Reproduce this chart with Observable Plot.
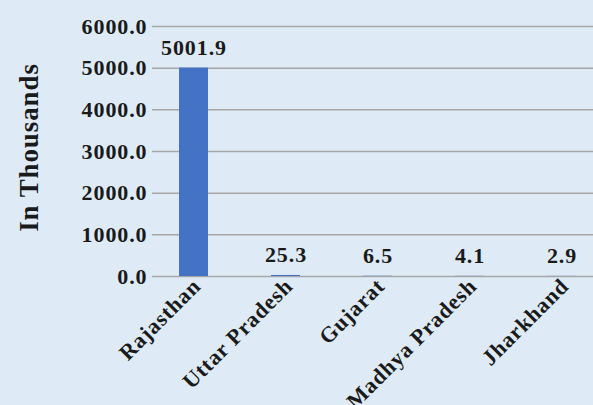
<!DOCTYPE html>
<html><head><meta charset="utf-8">
<script src="https://cdn.jsdelivr.net/npm/d3@7"></script>
<script src="https://cdn.jsdelivr.net/npm/@observablehq/plot@0.6"></script>
<style>
html,body{margin:0;padding:0;background:#deebf7;}
#c{width:593px;height:405px;overflow:hidden;}
</style></head><body><div id="c"></div>
<script>
const states = ["Rajasthan","Uttar Pradesh","Gujarat","Madhya Pradesh","Jharkhand"];
const values = [5001.9, 25.3, 6.5, 4.1, 2.9];
const yTicks = [0,1000,2000,3000,4000,5000,6000];
const data = states.map((s,i)=>({state:s, value:values[i]}));
const font = "'Liberation Serif', serif";
const chart = Plot.plot({
  width: 593, height: 405,
  marginTop: 26, marginBottom: 129, marginLeft: 152, marginRight: 0,
  style: {background: "#deebf7", fontFamily: font, fontWeight: "bold", fontSize: "22px", color: "#1a1a1a", letterSpacing: "0.9px", overflow: "visible"},
  x: {domain: states, range: [133, 622], paddingInner: 0.685, paddingOuter: 0.5},
  y: {domain: [0, 6000]},
  marks: [
    Plot.ruleY(yTicks, {stroke: "#a6a6a6", strokeWidth: 1.5}),
    Plot.barY(data, {x: "state", y: "value", fill: "#4472c4"}),
    Plot.text(data, {x: "state", y: "value", text: d => d.value.toFixed(1), dy: -20, fontSize: 22, fill: "#1a1a1a"}),
    Plot.axisY({ticks: yTicks, tickFormat: d => d.toFixed(1), tickSize: 0, tickPadding: 5, fontSize: 22, label: null}),
    Plot.axisX({tickSize: 0, tickRotate: -45, tickPadding: 6, dx: 3, fontSize: 22, label: null}),
    Plot.text(["In Thousands"], {frameAnchor: "left", textAnchor: "middle", dx: -123, dy: -4, rotate: -90, fontSize: 27, letterSpacing: 1.5, fill: "#1a1a1a"})
  ]
});
document.getElementById("c").appendChild(chart);
</script></body></html>
